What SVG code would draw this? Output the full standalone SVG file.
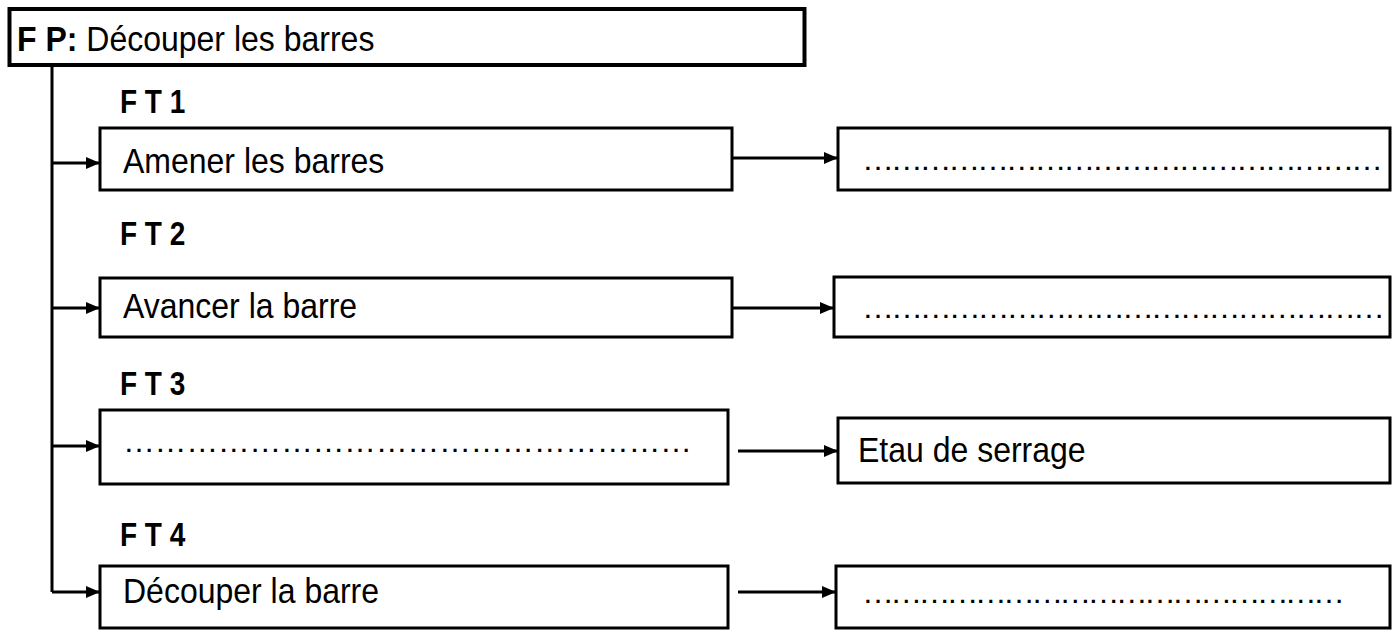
<svg xmlns="http://www.w3.org/2000/svg" width="1397" height="630" viewBox="0 0 1397 630">
<style>
.box{fill:#fff;stroke:#000;stroke-width:3}
.t{font-family:"Liberation Sans",Arial,sans-serif;font-size:32px;fill:#000}
.b{font-weight:bold}
.lbl{font-family:"Liberation Sans",Arial,sans-serif;font-size:28px;font-weight:bold;fill:#000}
.c{fill:none;stroke:#000;stroke-width:3}
</style>
<defs>
<marker id="ah" viewBox="0 0 14 12" refX="14" refY="6" markerWidth="14" markerHeight="12" markerUnits="userSpaceOnUse" orient="auto">
<path d="M0,0 L14,6 L0,12 Z" fill="#000"/>
</marker>
</defs>
<rect width="1397" height="630" fill="#fff"/>
<g id="connectors">
<path class="c" d="M52,66 V592"/>
<path class="c" d="M52,163 H100" marker-end="url(#ah)"/>
<path class="c" d="M52,308 H100" marker-end="url(#ah)"/>
<path class="c" d="M52,446 H100" marker-end="url(#ah)"/>
<path class="c" d="M52,592 H100" marker-end="url(#ah)"/>
<path class="c" d="M732,158 H838" marker-end="url(#ah)"/>
<path class="c" d="M732,308 H834" marker-end="url(#ah)"/>
<path class="c" d="M738,451 H838" marker-end="url(#ah)"/>
<path class="c" d="M738,592 H836" marker-end="url(#ah)"/>
</g>
<g id="fp">
<rect class="box" x="9.5" y="9" width="795" height="56" style="stroke-width:4"/>
<text class="t" x="17" y="51" transform="translate(0,51) scale(1,1.08) translate(0,-51)"><tspan class="b">F P:</tspan> Découper les barres</text>
</g>
<g id="ft1">
<text class="lbl" x="120" y="113" transform="translate(0,113) scale(1,1.2) translate(0,-113)">F T 1</text>
<rect class="box" x="100" y="128" width="632" height="62"/>
<text class="t" x="123" y="173" transform="translate(0,173) scale(1,1.08) translate(0,-173)">Amener les barres</text>
</g>
<g id="ft1-res">
<rect class="box" x="838" y="128" width="552" height="62"/>
<text class="t" x="862" y="170" textLength="521" lengthAdjust="spacing">………………………………………………</text>
</g>
<g id="ft2">
<text class="lbl" x="120" y="245" transform="translate(0,245) scale(1,1.2) translate(0,-245)">F T 2</text>
<rect class="box" x="100" y="278" width="632" height="59"/>
<text class="t" x="123" y="318" transform="translate(0,318) scale(1,1.08) translate(0,-318)">Avancer la barre</text>
</g>
<g id="ft2-res">
<rect class="box" x="834" y="277" width="556" height="60"/>
<text class="t" x="862" y="318" textLength="523" lengthAdjust="spacing">………………………………………………</text>
</g>
<g id="ft3">
<text class="lbl" x="120" y="395" transform="translate(0,395) scale(1,1.2) translate(0,-395)">F T 3</text>
<rect class="box" x="100" y="410" width="628" height="74"/>
<text class="t" x="123" y="452" textLength="569" lengthAdjust="spacing">………………………………………………</text>
</g>
<g id="ft3-res">
<rect class="box" x="838" y="418" width="552" height="65"/>
<text class="t" x="858" y="462" transform="translate(0,462) scale(1,1.08) translate(0,-462)">Etau de serrage</text>
</g>
<g id="ft4">
<text class="lbl" x="120" y="546" transform="translate(0,546) scale(1,1.2) translate(0,-546)">F T 4</text>
<rect class="box" x="100" y="566" width="628" height="62"/>
<text class="t" x="123" y="603" transform="translate(0,603) scale(1,1.08) translate(0,-603)">Découper la barre</text>
</g>
<g id="ft4-res">
<rect class="box" x="836" y="566" width="554" height="62"/>
<text class="t" x="862" y="603" textLength="483" lengthAdjust="spacing">……………………………………………</text>
</g>
</svg>
